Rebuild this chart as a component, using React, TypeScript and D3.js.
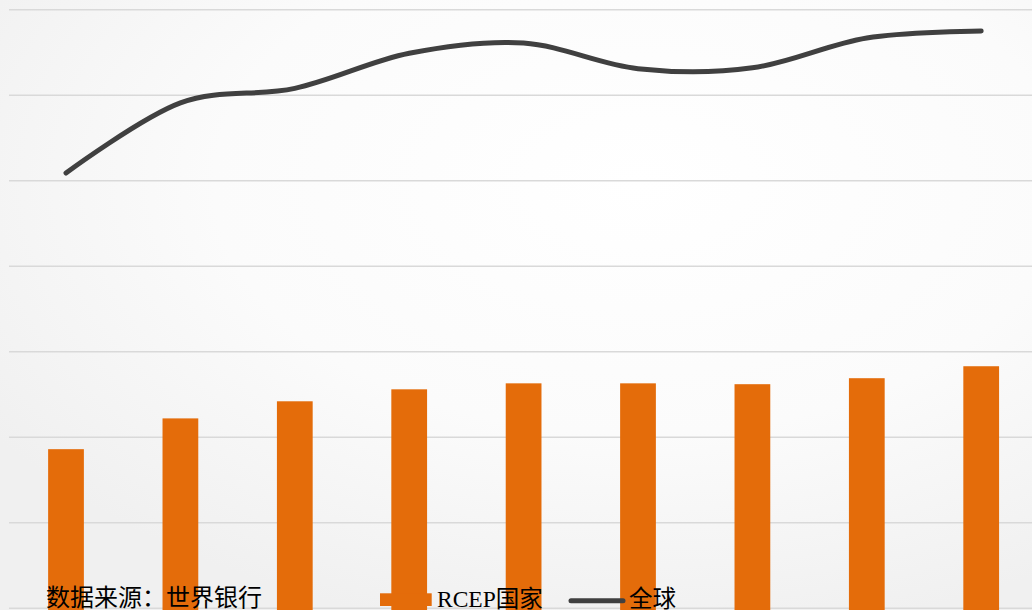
import React from "react";
import * as d3 from "d3";

const categories = ["1", "2", "3", "4", "5", "6", "7", "8", "9"];
const rcepValues = [28.6, 32.2, 34.2, 35.6, 36.3, 36.3, 36.2, 36.9, 38.3];
const globalValues = [60.9, 69.1, 70.8, 74.9, 76.1, 73.1, 73.2, 76.7, 77.5];
const gridTicks = [10, 20, 30, 40, 50, 60, 70, 80];
const sourceText = "数据来源：世界银行";
const legendBar = "RCEP国家";
const legendLine = "全球";

const W = 1032;
const H = 610;

export default function App() {
  const x = d3.scaleBand<string>().domain(categories).range([8.8, 8.8 + 9 * 114.4]).paddingInner(0.6875).paddingOuter(0.34375);
  const xc = (c: string) => (x(c) as number) + x.bandwidth() / 2;
  const y = d3.scaleLinear().domain([0, 80]).range([693.7, 9.7]);
  const line = d3
    .line<number>()
    .x((_, i) => xc(categories[i]))
    .y((d) => y(d))
    .curve(d3.curveCardinal.tension(0));

  return (
    <svg width={W} height={H} style={{ position: "absolute", left: 0, top: 0 }}>
      <defs>
        <radialGradient id="bg" cx="62%" cy="30%" r="75%">
          <stop offset="0%" stopColor="#ffffff" />
          <stop offset="55%" stopColor="#fbfbfb" />
          <stop offset="100%" stopColor="#f0f0f0" />
        </radialGradient>
      </defs>
      <rect x={0} y={0} width={W} height={H} fill="url(#bg)" />
      {gridTicks.map((t) => (
        <line key={t} x1={9} x2={W + 10} y1={y(t)} y2={y(t)} stroke="#d9d9d9" strokeWidth={1.5} />
      ))}
      {categories.map((c, i) => (
        <rect
          key={c}
          x={x(c)}
          y={y(rcepValues[i])}
          width={x.bandwidth()}
          height={y(0) - y(rcepValues[i])}
          fill="#E46C0A"
        />
      ))}
      <path d={line(globalValues) || ""} fill="none" stroke="#404040" strokeWidth={5} strokeLinecap="round" strokeLinejoin="round" />
      <text x={46} y={606} fontSize={24} fontFamily="'Noto Sans CJK SC', sans-serif" fill="#000">
        {sourceText}
      </text>
      <rect x={380} y={593.3} width={51.7} height={12.7} fill="#E46C0A" />
      <text x={437} y={607} fontSize={23.5} fontFamily="'Liberation Serif', 'Noto Sans CJK SC', serif" fill="#000">
        {legendBar}
      </text>
      <line x1={571} x2={623} y1={600.7} y2={600.7} stroke="#404040" strokeWidth={5} strokeLinecap="round" />
      <text x={629} y={607} fontSize={23.5} fontFamily="'Liberation Serif', 'Noto Sans CJK SC', serif" fill="#000">
        {legendLine}
      </text>
    </svg>
  );
}
